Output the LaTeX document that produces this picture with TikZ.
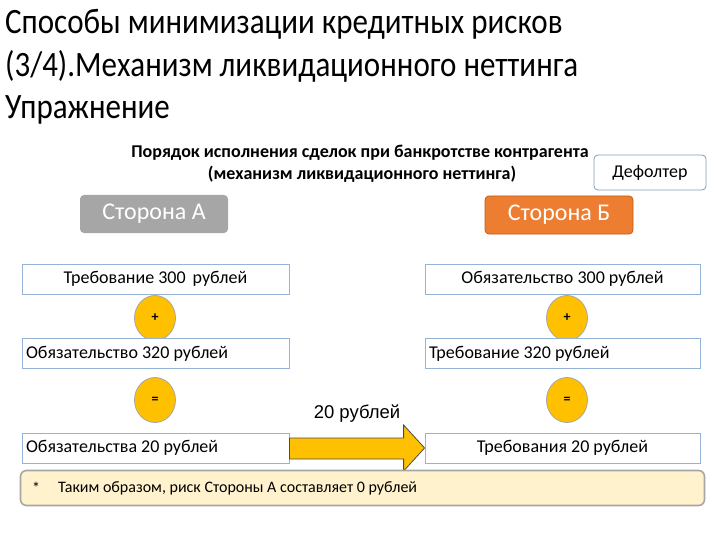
\documentclass[tikz,border=0pt]{standalone}
\usepackage{fontspec}
\setmainfont{Carlito}
\newfontfamily\arialf{Liberation Sans}
\usetikzlibrary{calc,shapes.geometric}
\definecolor{boxline}{HTML}{95B3D7}
\definecolor{orng}{HTML}{ED7D31}
\definecolor{orngd}{HTML}{C55A11}
\definecolor{gryA}{HTML}{A6A6A6}
\definecolor{gold}{HTML}{FFC000}
\definecolor{noteF}{HTML}{FFF2CC}
\definecolor{defl}{HTML}{7F9CB9}
\tikzset{
  rowbox/.style={draw=boxline, line width=0.8pt, fill=white, minimum width=267pt, minimum height=30pt, inner sep=0pt, font=\fontsize{18}{21}\selectfont},
  rowboxR/.style={rowbox, minimum width=275pt},
  opcirc/.style={ellipse, draw=gryA, line width=0.8pt, fill=gold, minimum width=41pt, minimum height=45pt, inner sep=0pt, font=\fontsize{14}{16}\selectfont\bfseries},
  party/.style={rounded corners=4pt, minimum width=148pt, minimum height=38pt, inner sep=0pt, text=white, font=\fontsize{24}{28}\selectfont},
  titl/.style={anchor=base west, inner sep=0pt, font=\fontsize{31}{38}\selectfont},
  hdr/.style={anchor=base, inner sep=0pt, font=\fontsize{18}{21}\selectfont\bfseries},
}
\begin{document}
\begin{tikzpicture}[x=1pt,y=-1pt]
\path[use as bounding box, fill=white] (0,0) rectangle (720,540);
% title
\node[titl] (t1) at (5,34) {\scalebox{1}[1.15]{Способы минимизации кредитных рисков}};
\node[titl] (t2) at (5,77) {\scalebox{1}[1.15]{(3/4).Механизм ликвидационного неттинга}};
\node[titl] (t3) at (5,119) {\scalebox{1}[1.15]{Упражнение}};
% header
\node[hdr] (h1) at (360,158) {Порядок исполнения сделок при банкротстве контрагента};
\node[hdr] (h2) at (362,180) {(механизм ликвидационного неттинга)};
\node[draw=defl, line width=0.8pt, rounded corners=4pt, minimum width=112pt, minimum height=35pt, inner sep=0pt, font=\fontsize{18}{21}\selectfont] (def) at (650,172.5) {Дефолтер};
% parties
\node[party, fill=gryA] (pa) at (154,214) {Сторона А};
\node[party, fill=orng, draw=orngd, line width=0.8pt] (pb) at (559,215) {Сторона Б};
% rows
\node[rowbox] (r1l) at (155.5,279) {Требование 300\, рублей};
\node[rowboxR] (r1r) at (562.5,279) {Обязательство 300 рублей};
\node[opcirc] (p1) at (155,318) {+};
\node[opcirc] (p2) at (567,318) {+};
\node[rowbox, text width=259pt, align=flush left] (r2l) at (155.5,353.5) {Обязательство 320 рублей};
\node[rowboxR, text width=267pt, align=flush left] (r2r) at (562.5,353.5) {Требование 320 рублей};
\node[opcirc] (e1) at (155,400) {=};
\node[opcirc] (e2) at (567,400) {=};
\node[rowbox, text width=259pt, align=flush left] (r3l) at (155.5,448) {Обязательства 20 рублей};
\node[rowboxR] (r3r) at (562.5,448) {Требования 20 рублей};
% arrow
\draw[fill=gold, draw=black!70, line width=0.8pt]
  ($(r3l.east)+(0,-10)$) -- ($(r3r.west)+(-21,-10)$) -- ($(r3r.west)+(-21,-23)$)
  -- (r3r.west) -- ($(r3r.west)+(-21,23)$) -- ($(r3r.west)+(-21,11)$) -- ($(r3l.east)+(0,11)$) -- cycle;
\node[font=\arialf\fontsize{18.5}{22}\selectfont, inner sep=0pt] (lab) at (357,414) {20 рублей};
% note
\node[draw=gryA, line width=1.6pt, fill=noteF, rounded corners=6pt, minimum width=684pt, minimum height=35pt, inner sep=0pt] (note) at (362.5,488) {};
\node[anchor=west, inner sep=0pt, font=\fontsize{16}{19}\selectfont] (star) at (32,488) {*};
\node[anchor=west, inner sep=0pt, font=\fontsize{16}{19}\selectfont] (nt) at (58,488) {Таким образом, риск Стороны А составляет 0 рублей};
\end{tikzpicture}
\end{document}
